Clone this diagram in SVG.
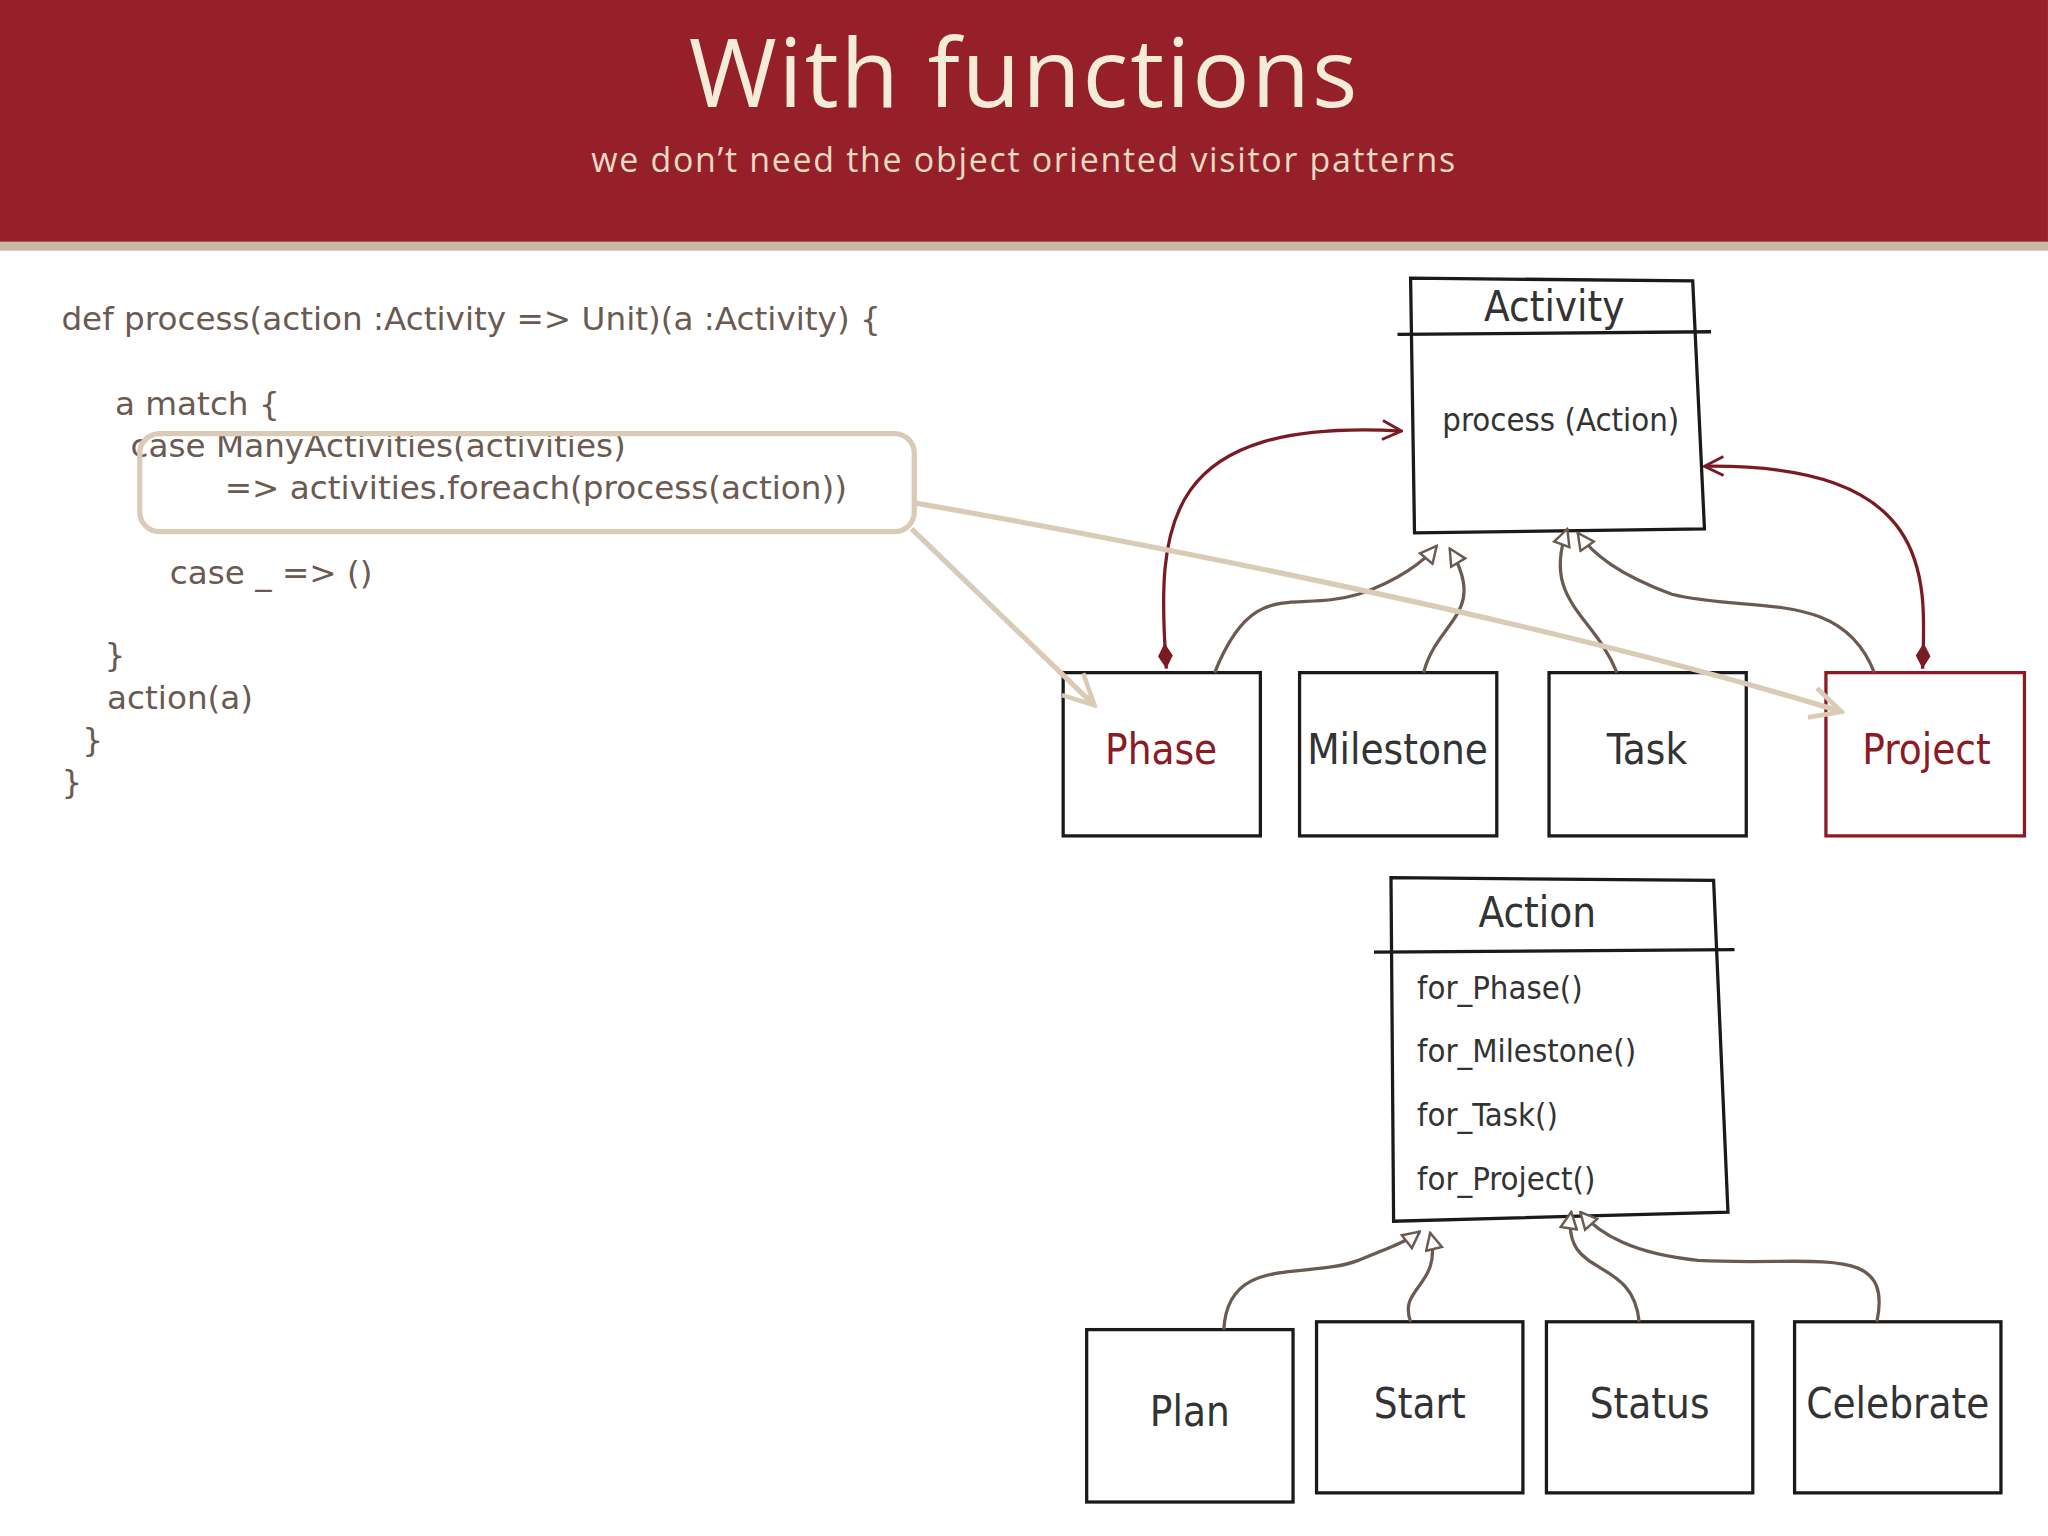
<svg xmlns="http://www.w3.org/2000/svg" width="2048" height="1536" viewBox="0 0 2048 1536">
<defs>
<style>
.code{font-family:"DejaVu Sans","Open Sans",sans-serif;font-size:25px;fill:#6b5a52}
.box{fill:#fff;stroke:#1a1a1a;stroke-width:2.5}
.lbl{font-family:"DejaVu Sans Condensed","Open Sans",sans-serif;font-size:32px;fill:#333;text-anchor:middle}
.m{font-family:"DejaVu Sans Condensed","Open Sans",sans-serif;font-size:25px;fill:#333}
.inh{fill:none;stroke:#6b5a52;stroke-width:2.5;marker-end:url(#tri)}
.agg{fill:none;stroke:#7a1a22;stroke-width:2.5;marker-end:url(#open);marker-start:url(#dia)}
.tan{fill:none;stroke:#d9cbb5;stroke-width:4;marker-end:url(#tanarr)}
</style>
<marker id="tri" viewBox="0 0 12 12" refX="11" refY="6" markerWidth="6" markerHeight="6" orient="auto" markerUnits="strokeWidth"><path d="M1 1 L11 6 L1 11 Z" fill="#fff" stroke="#6b5a52" stroke-width="1.5"/></marker>
<marker id="open" viewBox="0 0 12 12" refX="11" refY="6" markerWidth="7" markerHeight="7" orient="auto" markerUnits="strokeWidth"><path d="M1 1 L11 6 L1 11" fill="none" stroke="#7a1a22" stroke-width="1.5"/></marker>
<marker id="dia" viewBox="0 0 16 10" refX="1" refY="5" markerWidth="9" markerHeight="6" orient="auto" markerUnits="strokeWidth"><path d="M1 5 L8 1 L15 5 L8 9 Z" fill="#7a1a22"/></marker>
<marker id="tanarr" viewBox="0 0 12 12" refX="11" refY="6" markerWidth="7" markerHeight="7" orient="auto" markerUnits="strokeWidth"><path d="M1 1 L11 6 L1 11" fill="none" stroke="#d9cbb5" stroke-width="1.5"/></marker>
</defs>
<rect width="2048" height="1536" fill="#fff"/>
<g transform="scale(1.3061)">
<g id="header">
<rect x="0" y="0" width="1568" height="186" fill="#962029"/>
<rect x="0" y="185" width="1568" height="7" fill="#c9b8a6"/>
<text x="784" y="82" text-anchor="middle" font-family="Open Sans,DejaVu Sans,sans-serif" font-size="73" letter-spacing="1.5" fill="#f5ebd9">With functions</text>
<text x="784" y="132" text-anchor="middle" font-family="Open Sans,DejaVu Sans,sans-serif" font-size="26" letter-spacing="1.3" fill="#e8d9c4">we don’t need the object oriented visitor patterns</text>
</g>
<g id="code">
<text class="code" x="47" y="253">def process(action :Activity =&gt; Unit)(a :Activity) {</text>
<text class="code" x="88" y="318">a match {</text>
<text class="code" x="100" y="350">case ManyActivities(activities)</text>
<text class="code" x="172" y="382">=&gt; activities.foreach(process(action))</text>
<text class="code" x="130" y="447">case _ =&gt; ()</text>
<text class="code" x="80" y="510">}</text>
<text class="code" x="82" y="543">action(a)</text>
<text class="code" x="63" y="575">}</text>
<text class="code" x="47" y="607">}</text>
</g>
<g id="Activity"><path class="box" d="M1080 213 L1296 215 L1305 405 L1083 408 Z"/><line x1="1070" y1="256" x2="1310" y2="254" stroke="#1a1a1a" stroke-width="2.5"/><text class="lbl" x="1190" y="246">Activity</text><text class="m" x="1195" y="330" text-anchor="middle">process (Action)</text></g>
<g id="Phase"><rect class="box" x="814" y="515" width="151" height="125"/><text class="lbl" x="889" y="585" style="fill:#8b1a24">Phase</text></g>
<g id="Milestone"><rect class="box" x="995" y="515" width="151" height="125"/><text class="lbl" x="1070" y="585">Milestone</text></g>
<g id="Task"><rect class="box" x="1186" y="515" width="151" height="125"/><text class="lbl" x="1261" y="585">Task</text></g>
<g id="Project"><rect class="box" x="1398" y="515" width="152" height="125" style="stroke:#8b1a24"/><text class="lbl" x="1475" y="585" style="fill:#8b1a24">Project</text></g>
<g id="Action"><path class="box" d="M1065 672 L1312 674 L1323 928 L1067 935 Z"/><line x1="1052" y1="729" x2="1328" y2="727" stroke="#1a1a1a" stroke-width="2.5"/><text class="lbl" x="1177" y="710">Action</text>
<text class="m" x="1085" y="765">for_Phase()</text><text class="m" x="1085" y="813">for_Milestone()</text><text class="m" x="1085" y="862">for_Task()</text><text class="m" x="1085" y="911">for_Project()</text></g>
<g id="Plan"><rect class="box" x="832" y="1018" width="158" height="132"/><text class="lbl" x="911" y="1092">Plan</text></g>
<g id="Start"><rect class="box" x="1008" y="1012" width="158" height="131"/><text class="lbl" x="1087" y="1086">Start</text></g>
<g id="Status"><rect class="box" x="1184" y="1012" width="158" height="131"/><text class="lbl" x="1263" y="1086">Status</text></g>
<g id="Celebrate"><rect class="box" x="1374" y="1012" width="158" height="131"/><text class="lbl" x="1453" y="1086">Celebrate</text></g>
<g id="connectors">
<path class="agg" d="M893 512 C885 400 890 320 1073 330"/>
<path class="agg" d="M1472 512 C1475 440 1480 355 1305 357"/>
<path class="inh" d="M930 515 C960 440 990 470 1040 455 C1070 445 1090 430 1100 418"/>
<path class="inh" d="M1090 515 C1100 475 1140 470 1110 420"/>
<path class="inh" d="M1238 515 C1220 470 1180 460 1200 405"/>
<path class="inh" d="M1435 515 C1410 450 1340 470 1280 455 C1240 440 1220 425 1208 408"/>
<path class="inh" d="M937 1018 C940 960 1000 980 1040 965 C1065 955 1078 950 1087 943"/>
<path class="inh" d="M1080 1012 C1070 985 1105 985 1095 944"/>
<path class="inh" d="M1255 1012 C1250 960 1195 980 1203 928"/>
<path class="inh" d="M1437 1012 C1450 950 1390 970 1300 965 C1250 960 1225 945 1210 928"/>
<rect x="107" y="332" width="593" height="75" rx="15" fill="none" stroke="#d9cbb5" stroke-width="4"/>
<path class="tan" d="M698 405 L838 540"/>
<path class="tan" d="M700 385 C900 420 1200 480 1410 545"/>
</g>
</g>
</svg>
